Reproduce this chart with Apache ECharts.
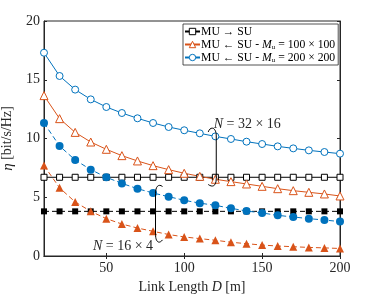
<!DOCTYPE html>
<html>
<head>
<meta charset="utf-8">
<script src="https://cdn.jsdelivr.net/npm/echarts@6/dist/echarts.min.js"></script>
<style>
  html, body { margin: 0; padding: 0; background: #fff; }
  #chart { width: 374px; height: 296px; }
</style>
</head>
<body>
<div id="chart"></div>
<script>
// link length D [m]
const linkLength = [10, 20, 30, 40, 50, 60, 70, 80, 90, 100, 110, 120, 130, 140, 150, 160, 170, 180, 190, 200];

// N = 32 x 16
const muToSuN32 = [6.70, 6.70, 6.70, 6.70, 6.70, 6.70, 6.70, 6.70, 6.70, 6.70, 6.70, 6.70, 6.70, 6.70, 6.70, 6.70, 6.70, 6.70, 6.70, 6.70];
const su100N32 = [13.65, 11.69, 10.52, 9.70, 9.08, 8.54, 8.09, 7.69, 7.35, 7.04, 6.78, 6.53, 6.33, 6.13, 5.93, 5.73, 5.56, 5.42, 5.28, 5.11];
const su200N32 = [17.30, 15.32, 14.16, 13.33, 12.68, 12.17, 11.72, 11.32, 10.98, 10.70, 10.44, 10.18, 9.96, 9.73, 9.53, 9.33, 9.16, 8.99, 8.85, 8.71];

// N = 16 x 4
const muToSuN16 = [3.80, 3.80, 3.80, 3.80, 3.80, 3.80, 3.80, 3.80, 3.80, 3.80, 3.80, 3.80, 3.80, 3.80, 3.80, 3.80, 3.80, 3.80, 3.80, 3.80];
const su100N16 = [7.70, 5.80, 4.60, 3.80, 3.18, 2.72, 2.38, 2.10, 1.83, 1.62, 1.48, 1.34, 1.17, 1.05, 0.93, 0.85, 0.79, 0.73, 0.69, 0.64];
const su200N16 = [11.32, 9.36, 8.17, 7.35, 6.70, 6.18, 5.73, 5.36, 5.05, 4.74, 4.50, 4.31, 4.06, 3.83, 3.66, 3.46, 3.32, 3.18, 3.06, 2.93];

const xTicks = [50, 100, 150, 200];
const yTicks = [0, 5, 10, 15, 20];

const names = ['MU → SU', 'MU ← SU - Mu100', 'MU ← SU - Mu200'];

const BLUE = '#0072BD';
const ORANGE = '#D95319';
const BLACK = '#000000';
const AXIS = '#262626';
const FONT = 'Liberation Serif';

const pairs = ys => linkLength.map((x, i) => [x, ys[i]]);

const solid = (name, ys, color, symbol, size) => ({
  name,
  type: 'line',
  data: pairs(ys),
  symbol,
  symbolSize: size,
  lineStyle: { color, width: 1 },
  itemStyle: { color: '#fff', borderColor: color, borderWidth: 1 },
  emphasis: { disabled: true },
  animation: false
});

const dashed = (name, ys, color, symbol, size) => ({
  name,
  type: 'line',
  data: pairs(ys),
  symbol,
  symbolSize: size,
  lineStyle: { color, width: 1, type: [5, 3] },
  itemStyle: { color, borderWidth: 0 },
  emphasis: { disabled: true },
  animation: false
});

const chart = echarts.init(document.getElementById('chart'));

const option = {
  animation: false,
  grid: {
    left: 44, right: 34, top: 21, bottom: 40,
    outerBoundsMode: 'none',
    containLabel: false,
    show: true, borderColor: AXIS, borderWidth: 1
  },
  legend: {
    data: names,
    orient: 'vertical',
    left: 183,
    top: 24,
    itemWidth: 15,
    itemHeight: 8,
    itemGap: 0,
    padding: [1, 3, 1, 1],
    backgroundColor: '#fff',
    borderColor: AXIS,
    borderWidth: 0.8,
    borderRadius: 0,
    selectedMode: false,
    itemStyle: { color: '#fff', borderWidth: 1 },
    textStyle: {
      fontFamily: FONT, fontSize: 11.7, color: '#000', lineHeight: 13,
      padding: [0, 0, 0, -4],
      rich: {
        i: { fontFamily: FONT, fontSize: 11.7, fontStyle: 'italic', color: '#000' },
        s: { fontFamily: FONT, fontSize: 7, color: '#000', padding: [5, 0, 0, 0] }
      }
    },
    formatter: n => {
      if (n === names[1]) return 'MU ← SU - {i|M}{s|u} = 100 × 100';
      if (n === names[2]) return 'MU ← SU - {i|M}{s|u} = 200 × 200';
      return n;
    }
  },
  xAxis: [
    {
      type: 'value', min: 10, max: 200,
      name: 'Link Length {i|D} [m]',
      nameLocation: 'middle', nameGap: 17,
      nameTextStyle: {
        fontFamily: FONT, fontSize: 14, color: AXIS,
        rich: { i: { fontFamily: FONT, fontSize: 14, fontStyle: 'italic', color: AXIS } }
      },
      axisLine: { show: true, lineStyle: { color: AXIS } },
      axisTick: { show: true, inside: true, length: 3, customValues: xTicks, lineStyle: { color: AXIS } },
      axisLabel: { customValues: xTicks, margin: 5, fontFamily: FONT, fontSize: 14, color: AXIS },
      splitLine: { show: false }
    },
    {
      type: 'value', min: 10, max: 200, position: 'top',
      axisLine: { show: true, lineStyle: { color: AXIS } },
      axisTick: { show: true, inside: true, length: 3, customValues: xTicks, lineStyle: { color: AXIS } },
      axisLabel: { show: false },
      splitLine: { show: false }
    }
  ],
  yAxis: [
    {
      type: 'value', min: 0, max: 20, interval: 5,
      name: '{i|η} [bit/s/Hz]',
      nameLocation: 'middle', nameGap: 24, nameRotate: 90,
      nameTextStyle: {
        fontFamily: FONT, fontSize: 14, color: AXIS,
        rich: { i: { fontFamily: FONT, fontSize: 15, fontStyle: 'italic', color: AXIS } }
      },
      axisLine: { show: true, lineStyle: { color: AXIS } },
      axisTick: { show: true, inside: true, length: 3, lineStyle: { color: AXIS } },
      axisLabel: { margin: 4, fontFamily: FONT, fontSize: 14, color: AXIS, formatter: v => yTicks.includes(v) ? String(v) : '' },
      splitLine: { show: false }
    },
    {
      type: 'value', min: 0, max: 20, interval: 5, position: 'right',
      axisLine: { show: true, lineStyle: { color: AXIS } },
      axisTick: { show: true, inside: true, length: 3, lineStyle: { color: AXIS } },
      axisLabel: { show: false },
      splitLine: { show: false }
    }
  ],
  series: [
    solid(names[0], muToSuN32, BLACK, 'rect', 6),
    solid(names[1], su100N32, ORANGE, 'triangle', 8),
    solid(names[2], su200N32, BLUE, 'circle', 7),
    dashed(names[0], muToSuN16, BLACK, 'rect', 6),
    dashed(names[1], su100N16, ORANGE, 'triangle', 8),
    dashed(names[2], su200N16, BLUE, 'circle', 8)
  ]
};

chart.setOption(option);

// group annotations: brackets and labels
const px = (x, y) => chart.convertToPixel({ gridIndex: 0 }, [x, y]);
const lineStyle = { stroke: '#000', lineWidth: 1, fill: null };
const textRich = {
  i: { fontFamily: FONT, fontSize: 14, fontStyle: 'italic', fill: AXIS },
  t: { fontFamily: FONT, fontSize: 14, fill: AXIS }
};

const b1 = px(118, 10.9);   // top of ")" bracket (N = 32 x 16)
const b1b = px(118, 6.0);
const b2 = px(83.5, 6.0);   // top of "(" bracket (N = 16 x 4)
const b2b = px(83.5, 1.2);
const t1 = px(119, 11.2);
const t2 = px(41.5, 0.8);

chart.setOption({
  graphic: [
    { type: 'bezierCurve', silent: true, z: 20, shape: { x1: b1[0] - 4, y1: b1[1] + 4, cpx1: b1[0] - 2, cpy1: b1[1] - 2, cpx2: b1[0] + 4, cpy2: b1[1] - 1, x2: b1[0] + 4, y2: b1[1] + 8 }, style: lineStyle },
    { type: 'line', silent: true, z: 20, shape: { x1: b1[0] + 4, y1: b1[1] + 8, x2: b1b[0] + 4, y2: b1b[1] - 7 }, style: lineStyle },
    { type: 'bezierCurve', silent: true, z: 20, shape: { x1: b1b[0] + 4, y1: b1b[1] - 7, cpx1: b1b[0] + 4, cpy1: b1b[1] + 1, cpx2: b1b[0], cpy2: b1b[1] + 2, x2: b1b[0] - 4, y2: b1b[1] - 1 }, style: lineStyle },

    { type: 'bezierCurve', silent: true, z: 20, shape: { x1: b2[0] + 4, y1: b2[1] + 1, cpx1: b2[0], cpy1: b2[1] - 2, cpx2: b2[0] - 3, cpy2: b2[1] + 1, x2: b2[0] - 3, y2: b2[1] + 8 }, style: lineStyle },
    { type: 'line', silent: true, z: 20, shape: { x1: b2[0] - 3, y1: b2[1] + 8, x2: b2b[0] - 3, y2: b2b[1] - 8 }, style: lineStyle },
    { type: 'bezierCurve', silent: true, z: 20, shape: { x1: b2b[0] - 3, y1: b2b[1] - 8, cpx1: b2b[0] - 3, cpy1: b2b[1] + 1, cpx2: b2b[0] + 1, cpy2: b2b[1] + 2, x2: b2b[0] + 4, y2: b2b[1] - 2 }, style: lineStyle },

    { type: 'text', silent: true, z: 20, x: t1[0], y: t1[1], style: { text: '{i|N} {t|= 32 × 16}', rich: textRich, textVerticalAlign: 'middle', fill: AXIS } },
    { type: 'text', silent: true, z: 20, x: t2[0], y: t2[1], style: { text: '{i|N} {t|= 16 × 4}', rich: textRich, textVerticalAlign: 'middle', fill: AXIS } }
  ]
});
</script>
</body>
</html>
